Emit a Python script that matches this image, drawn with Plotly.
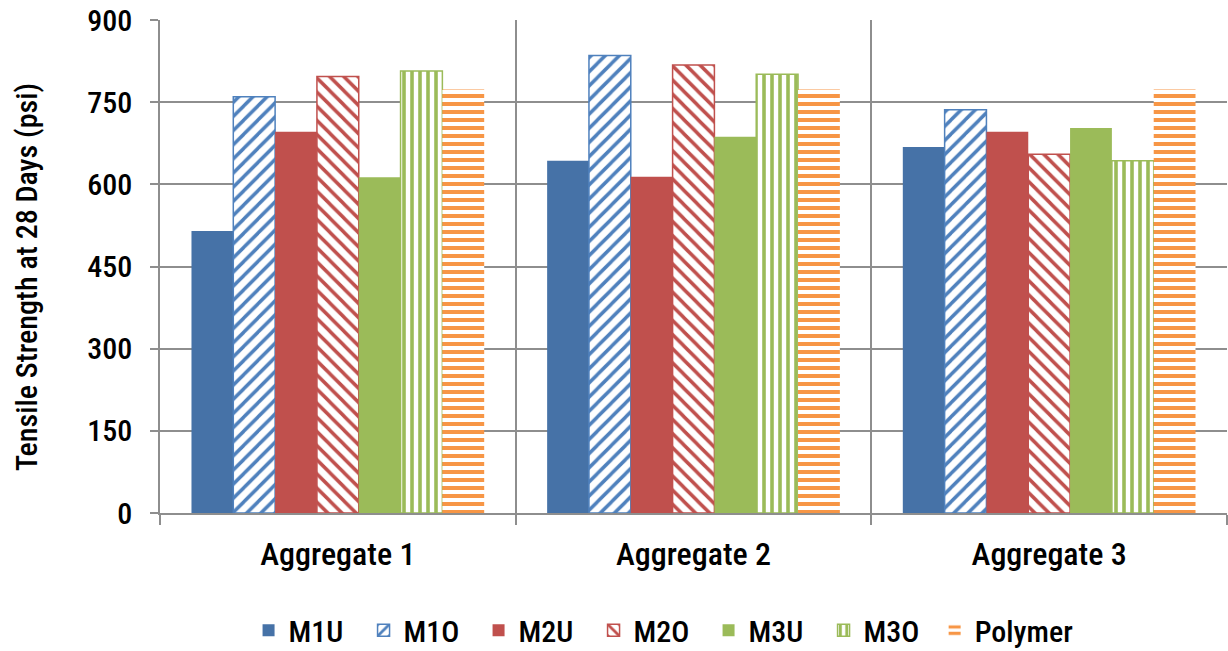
import plotly.graph_objects as go

# Tensile strength at 28 days (psi) by aggregate and mix
categories = ["Aggregate 1", "Aggregate 2", "Aggregate 3"]
series_names = ["M1U", "M1O", "M2U", "M2O", "M3U", "M3O", "Polymer"]
m1u = [515, 643, 668]
m1o = [760, 835, 736]
m2u = [696, 614, 696]
m2o = [797, 818, 655]
m3u = [613, 687, 703]
m3o = [807, 801, 643]
polymer = [773, 773, 773]
y_ticks = [0, 150, 300, 450, 600, 750, 900]

values = [m1u, m1o, m2u, m2o, m3u, m3o, polymer]

# fill styles per series: (color, pattern shape or None, outline color, pattern size, solidity)
styles = [
    ("#4672A7", None, None, None, None),
    ("#4F81BD", "/", "#4F81BD", 10, 0.35),
    ("#C0504D", None, None, None, None),
    ("#C0504D", "\\", "#C0504D", 10, 0.35),
    ("#9BBB59", None, None, None, None),
    ("#9BBB59", "|", "#9BBB59", 8, 0.45),
    ("#F79646", "-", None, 8, 0.5),
]

FONT = "Roboto Condensed, DejaVu Sans Condensed, sans-serif"
GRID = "#8E8E8E"


def text_font(size):
    return dict(family=FONT, size=size, color="black", weight=500)


fig = go.Figure()
for i, (name, vals, (color, shape, outline, size, solidity)) in enumerate(
        zip(series_names, values, styles)):
    marker = dict(color=color, line=dict(width=0))
    if shape is not None:
        marker["pattern"] = dict(shape=shape, fgcolor=color, bgcolor="white",
                                 size=size, solidity=solidity, fillmode="replace")
        if outline is not None:
            marker["line"] = dict(color=outline, width=1.5)
    # the last (longest) entry sits in its own legend so the fixed-width row does not clip it
    legend_ref = "legend2" if i == len(series_names) - 1 else "legend"
    fig.add_trace(go.Bar(name=name, x=categories, y=vals, marker=marker, legend=legend_ref))

legend_common = dict(orientation="h", yref="container", yanchor="middle", y=0.032,
                     xanchor="left", font=text_font(30), itemwidth=30, tracegroupgap=0,
                     bgcolor="rgba(0,0,0,0)")

fig.update_layout(
    width=1228, height=651,
    margin=dict(l=160, r=1, t=20, b=138, autoexpand=False),
    paper_bgcolor="white", plot_bgcolor="white",
    barmode="group", bargap=0.177, bargroupgap=0,
    font=text_font(30),
    showlegend=True,
    legend=dict(legend_common, x=0.083, entrywidth=70, entrywidthmode="pixels"),
    legend2=dict(legend_common, x=0.726),
    xaxis=dict(
        type="category", range=[-0.5, 2.5], tickson="boundaries",
        showgrid=True, gridcolor=GRID, gridwidth=1.5,
        showline=True, linecolor=GRID, linewidth=1.5,
        ticks="outside", ticklen=10, tickcolor=GRID, tickwidth=1.5,
        tickfont=text_font(32), ticklabelstandoff=12,
    ),
    yaxis=dict(
        range=[0, 900], tickvals=y_ticks, ticktext=[str(v) for v in y_ticks],
        showgrid=True, gridcolor=GRID, gridwidth=1.5,
        showline=True, linecolor=GRID, linewidth=1.5,
        ticks="outside", ticklen=8, tickcolor=GRID, tickwidth=1.5,
        tickfont=text_font(30), ticklabelstandoff=12, zeroline=False,
    ),
    annotations=[dict(
        text="Tensile Strength at 28 Days (psi)", textangle=-90,
        xref="paper", yref="paper", x=-0.1245, y=0.479,
        xanchor="center", yanchor="middle", showarrow=False,
        font=text_font(30),
    )],
)

fig.write_html("out.html")
